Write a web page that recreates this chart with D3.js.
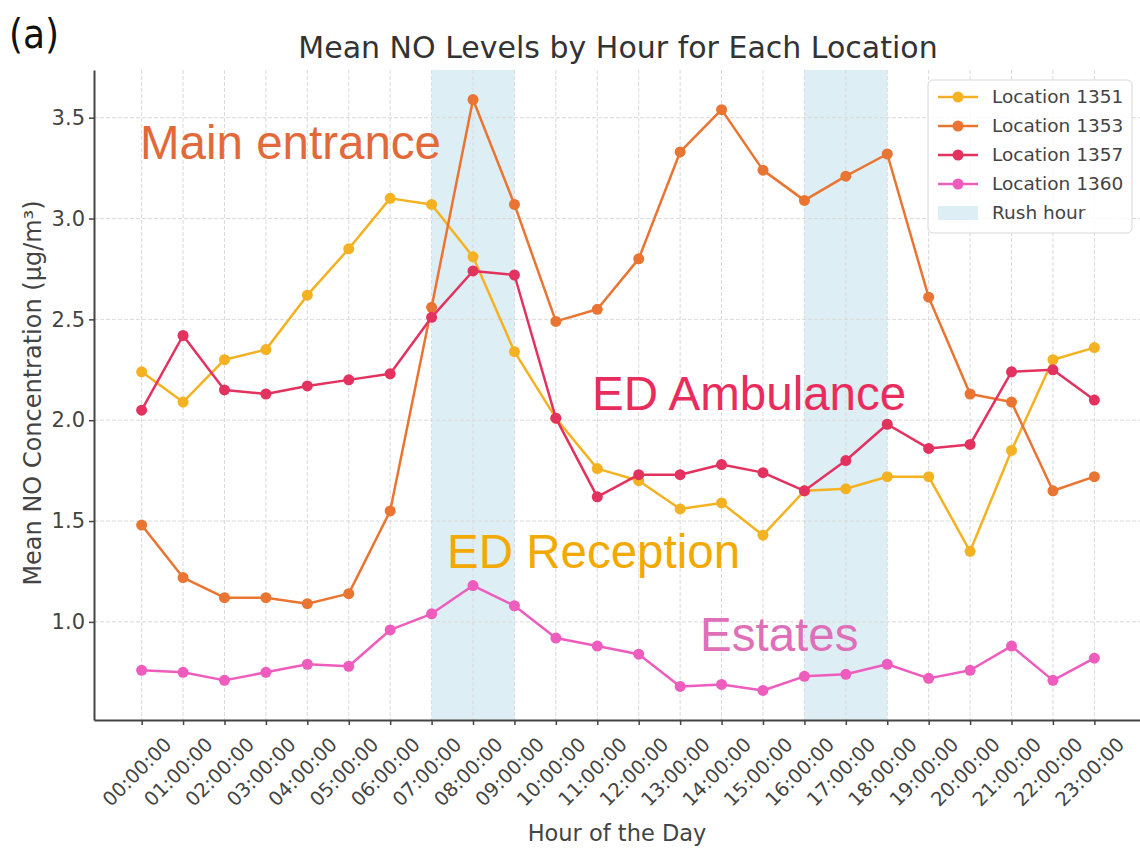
<!DOCTYPE html>
<html lang="en">
<head>
  <meta charset="UTF-8">
  <title>Mean NO Levels by Hour</title>
  <style>
    body { margin: 0; background: white; }
    text { font-family: "DejaVu Sans", sans-serif; }
  </style>
</head>
<body>
  <script src="https://d3js.org/d3.v7.min.js"></script>
  <script>
    // data
    let hours = ["00:00:00", "01:00:00", "02:00:00", "03:00:00", "04:00:00", "05:00:00",
      "06:00:00", "07:00:00", "08:00:00", "09:00:00", "10:00:00", "11:00:00",
      "12:00:00", "13:00:00", "14:00:00", "15:00:00", "16:00:00", "17:00:00",
      "18:00:00", "19:00:00", "20:00:00", "21:00:00", "22:00:00", "23:00:00"];

    let loc1351 = [2.24, 2.09, 2.30, 2.35, 2.62, 2.85, 3.10, 3.07, 2.81, 2.34, 2.01, 1.76,
      1.70, 1.56, 1.59, 1.43, 1.65, 1.66, 1.72, 1.72, 1.35, 1.85, 2.30, 2.36];
    let loc1353 = [1.48, 1.22, 1.12, 1.12, 1.09, 1.14, 1.55, 2.56, 3.59, 3.07, 2.49, 2.55,
      2.80, 3.33, 3.54, 3.24, 3.09, 3.21, 3.32, 2.61, 2.13, 2.09, 1.65, 1.72];
    let loc1357 = [2.05, 2.42, 2.15, 2.13, 2.17, 2.20, 2.23, 2.51, 2.74, 2.72, 2.01, 1.62,
      1.73, 1.73, 1.78, 1.74, 1.65, 1.80, 1.98, 1.86, 1.88, 2.24, 2.25, 2.10];
    let loc1360 = [0.76, 0.75, 0.71, 0.75, 0.79, 0.78, 0.96, 1.04, 1.18, 1.08, 0.92, 0.88,
      0.84, 0.68, 0.69, 0.66, 0.73, 0.74, 0.79, 0.72, 0.76, 0.88, 0.71, 0.82];

    let seriesNames = ["Location 1351", "Location 1353", "Location 1357", "Location 1360"];
    let seriesColors = ["#f4b223", "#ea7431", "#e3325f", "#ee5cbd"];
    let seriesValues = [loc1351, loc1353, loc1357, loc1360];

    // rush hour windows as [start index, end index]
    let rushHours = [[7, 9], [16, 18]];

    let yTicks = [1.0, 1.5, 2.0, 2.5, 3.0, 3.5];

    let labels = [
      { text: "Main entrance", color: "#e2693a", x: 140, y: 159 },
      { text: "ED Ambulance", color: "#ea2c5c", x: 592, y: 410 },
      { text: "ED Reception", color: "#f2a900", x: 447, y: 568 },
      { text: "Estates", color: "#de6fb8", x: 700, y: 651 }
    ];

    let svgWidth = 1140, svgHeight = 851;
    let plotLeft = 94, plotRight = 1142, plotTop = 70, plotBottom = 720;
    let bandColor = "#deeef5";

    let svg = d3.select("body").append("svg")
      .attr("width", svgWidth)
      .attr("height", svgHeight);

    // matplotlib style 5% margins
    let x = d3.scaleLinear()
      .domain([-1.15, hours.length - 1 + 1.15])
      .range([plotLeft, plotRight]);

    let allVals = seriesValues.flat();
    let yMin = d3.min(allVals), yMax = d3.max(allVals);
    let pad = (yMax - yMin) * 0.05;
    let y = d3.scaleLinear()
      .domain([yMin - pad, yMax + pad])
      .range([plotBottom, plotTop]);

    // rush hour bands
    svg.append("g").selectAll("rect")
      .data(rushHours)
      .join("rect")
      .attr("x", d => x(d[0]))
      .attr("y", plotTop)
      .attr("width", d => x(d[1]) - x(d[0]))
      .attr("height", plotBottom - plotTop)
      .attr("fill", bandColor);

    // grid
    let grid = svg.append("g")
      .attr("stroke", "#dadada")
      .attr("stroke-width", 1)
      .attr("stroke-dasharray", "4,2");
    grid.selectAll("line.v")
      .data(d3.range(hours.length))
      .join("line")
      .attr("class", "v")
      .attr("x1", d => x(d)).attr("x2", d => x(d))
      .attr("y1", plotTop).attr("y2", plotBottom);
    grid.selectAll("line.h")
      .data(yTicks)
      .join("line")
      .attr("class", "h")
      .attr("x1", plotLeft).attr("x2", plotRight)
      .attr("y1", d => y(d)).attr("y2", d => y(d));

    // axes
    let xAxis = d3.axisBottom(x)
      .tickValues(d3.range(hours.length))
      .tickFormat(i => hours[i])
      .tickSize(5)
      .tickSizeOuter(0);
    let gx = svg.append("g")
      .attr("transform", "translate(0," + plotBottom + ")")
      .call(xAxis);
    gx.select(".domain").attr("stroke", "#444").attr("stroke-width", 2);
    gx.selectAll(".tick line").attr("stroke", "#444").attr("stroke-width", 1.5);
    gx.selectAll(".tick text")
      .attr("font-family", "DejaVu Sans")
      .attr("font-size", 19.5)
      .attr("fill", "#444")
      .attr("text-anchor", "middle")
      .attr("dominant-baseline", "central")
      .attr("y", 0)
      .attr("dy", 0)
      .attr("transform", "translate(-5,52) rotate(-45)");

    let yAxis = d3.axisLeft(y)
      .tickValues(yTicks)
      .tickFormat(d3.format(".1f"))
      .tickSize(5)
      .tickSizeOuter(0);
    let gy = svg.append("g")
      .attr("transform", "translate(" + plotLeft + ",0)")
      .call(yAxis);
    gy.select(".domain").attr("stroke", "#444").attr("stroke-width", 2);
    gy.selectAll(".tick line").attr("stroke", "#444").attr("stroke-width", 1.5);
    gy.selectAll(".tick text")
      .attr("font-family", "DejaVu Sans")
      .attr("font-size", 21)
      .attr("fill", "#444")
      .attr("x", -9);

    // series
    let line = d3.line()
      .x((d, i) => x(i))
      .y(d => y(d));

    seriesValues.forEach((vals, k) => {
      let g = svg.append("g");
      g.append("path")
        .datum(vals)
        .attr("d", line)
        .attr("fill", "none")
        .attr("stroke", seriesColors[k])
        .attr("stroke-width", 2.5)
        .attr("stroke-linejoin", "round");
      g.selectAll("circle")
        .data(vals)
        .join("circle")
        .attr("cx", (d, i) => x(i))
        .attr("cy", d => y(d))
        .attr("r", 5.5)
        .attr("fill", seriesColors[k]);
    });

    // legend
    let legend = svg.append("g");
    legend.append("rect")
      .attr("x", 928).attr("y", 80)
      .attr("width", 204).attr("height", 153)
      .attr("rx", 5)
      .attr("fill", "white").attr("fill-opacity", 0.85)
      .attr("stroke", "#d8d8d8");
    seriesNames.forEach((name, k) => {
      let ly = 97 + k * 29;
      legend.append("line")
        .attr("x1", 938).attr("x2", 978)
        .attr("y1", ly).attr("y2", ly)
        .attr("stroke", seriesColors[k]).attr("stroke-width", 2.5);
      legend.append("circle")
        .attr("cx", 958).attr("cy", ly).attr("r", 5.5)
        .attr("fill", seriesColors[k]);
      legend.append("text")
        .attr("x", 992).attr("y", ly)
        .attr("dy", "0.35em")
        .attr("font-size", 18.5)
        .attr("fill", "#444")
        .text(name);
    });
    legend.append("rect")
      .attr("x", 938).attr("y", 206)
      .attr("width", 40).attr("height", 14)
      .attr("fill", bandColor);
    legend.append("text")
      .attr("x", 992).attr("y", 213)
      .attr("dy", "0.35em")
      .attr("font-size", 18.5)
      .attr("fill", "#444")
      .text("Rush hour");

    // titles
    svg.append("text")
      .attr("x", 618).attr("y", 58)
      .attr("text-anchor", "middle")
      .attr("font-size", 30)
      .attr("fill", "#333")
      .text("Mean NO Levels by Hour for Each Location");

    svg.append("text")
      .attr("x", 9).attr("y", 48)
      .attr("font-size", 40)
      .attr("fill", "#111")
      .style("font-family", "'DejaVu Sans Condensed', 'DejaVu Sans'")
      .text("(a)");

    svg.append("text")
      .attr("x", 617).attr("y", 841)
      .attr("text-anchor", "middle")
      .attr("font-size", 22.5)
      .attr("fill", "#444")
      .text("Hour of the Day");

    svg.append("text")
      .attr("transform", "translate(41,393) rotate(-90)")
      .attr("text-anchor", "middle")
      .attr("font-size", 24)
      .attr("fill", "#444")
      .text("Mean NO Concentration (µg/m³)");

    // location annotations
    svg.append("g").selectAll("text")
      .data(labels)
      .join("text")
      .attr("x", d => d.x)
      .attr("y", d => d.y)
      .attr("font-size", 47.5)
      .style("font-family", "'Liberation Sans', Arial, sans-serif")
      .attr("fill", d => d.color)
      .text(d => d.text);
  </script>
</body>
</html>
